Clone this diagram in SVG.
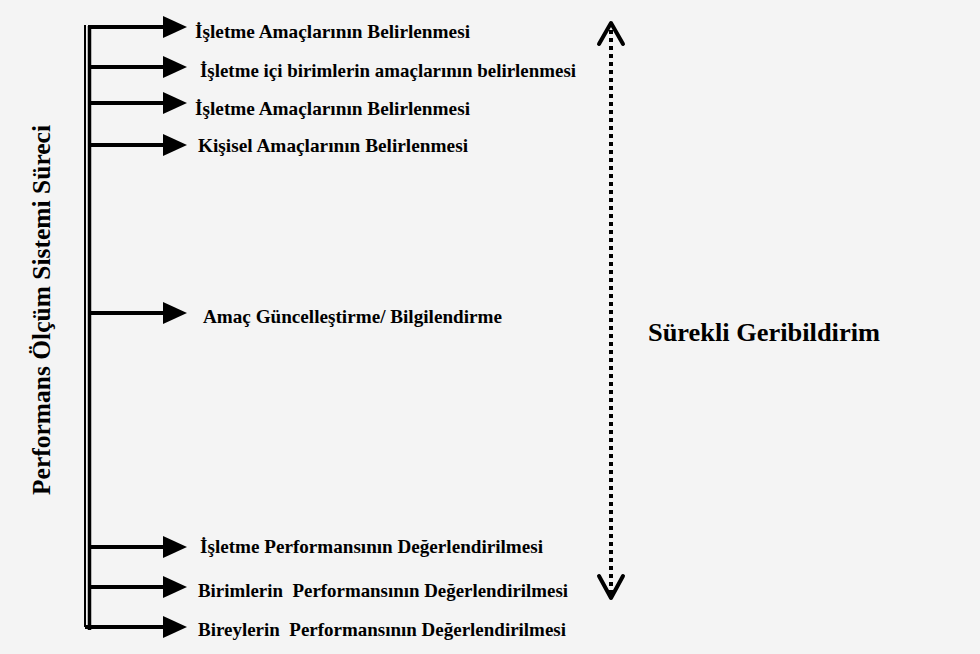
<svg xmlns="http://www.w3.org/2000/svg" width="980" height="654" viewBox="0 0 980 654">
<defs>
<style>
.t{font-family:"Liberation Serif","Times New Roman",serif;font-weight:bold;font-size:19px;fill:#000}
.big{font-family:"Liberation Serif","Times New Roman",serif;font-weight:bold;font-size:26px;fill:#000}
.shaft{stroke:#000;stroke-width:4;fill:none}
.head{fill:#000}
</style>
<g id="ah"><path class="head" d="M0,-11 L24,0 L0,11 Z"/></g>
</defs>
<rect width="980" height="654" fill="#f4f4f4"/>
<g id="connectors">
<line x1="85" y1="25" x2="85" y2="627" stroke="#000" stroke-width="2"/>
<line x1="89.5" y1="26" x2="89.5" y2="630" stroke="#000" stroke-width="3.5"/>
<line class="shaft" x1="88" y1="27" x2="166" y2="27"/><use href="#ah" x="163" y="27"/>
<line class="shaft" x1="88" y1="67" x2="166" y2="67"/><use href="#ah" x="163" y="67"/>
<line class="shaft" x1="88" y1="103" x2="166" y2="103"/><use href="#ah" x="163" y="103"/>
<line class="shaft" x1="88" y1="145" x2="166" y2="145"/><use href="#ah" x="163" y="145"/>
<line class="shaft" x1="88" y1="313" x2="166" y2="313"/><use href="#ah" x="163" y="313"/>
<line class="shaft" x1="88" y1="547" x2="166" y2="547"/><use href="#ah" x="163" y="547"/>
<line class="shaft" x1="88" y1="587" x2="166" y2="587"/><use href="#ah" x="163" y="587"/>
<line class="shaft" x1="85" y1="627" x2="166" y2="627"/><use href="#ah" x="163" y="627"/>
<line x1="611" y1="30" x2="611" y2="594" stroke="#000" stroke-width="4" stroke-dasharray="4,4"/>
<path d="M599,44 L611,23 L623,44" fill="none" stroke="#000" stroke-width="4" stroke-linejoin="round" stroke-linecap="round"/>
<path d="M599,576 L611,598 L623,576" fill="none" stroke="#000" stroke-width="4" stroke-linejoin="round" stroke-linecap="round"/>
</g>
<g id="n1"><text class="t" x="195" y="38" textLength="275" lengthAdjust="spacingAndGlyphs">İşletme Amaçlarının Belirlenmesi</text></g>
<g id="n2"><text class="t" x="200" y="77" textLength="376" lengthAdjust="spacingAndGlyphs">İşletme içi birimlerin amaçlarının belirlenmesi</text></g>
<g id="n3"><text class="t" x="195" y="115" textLength="275" lengthAdjust="spacingAndGlyphs">İşletme Amaçlarının Belirlenmesi</text></g>
<g id="n4"><text class="t" x="198" y="152" textLength="270" lengthAdjust="spacingAndGlyphs">Kişisel Amaçlarının Belirlenmesi</text></g>
<g id="n5"><text class="t" x="203" y="323" textLength="299" lengthAdjust="spacingAndGlyphs">Amaç Güncelleştirme/ Bilgilendirme</text></g>
<g id="n6"><text class="t" x="200" y="553" textLength="343" lengthAdjust="spacingAndGlyphs">İşletme Performansının Değerlendirilmesi</text></g>
<g id="n7"><text class="t" x="198" y="597" textLength="370" lengthAdjust="spacingAndGlyphs" xml:space="preserve">Birimlerin  Performansının Değerlendirilmesi</text></g>
<g id="n8"><text class="t" x="198" y="636" textLength="368" lengthAdjust="spacingAndGlyphs" xml:space="preserve">Bireylerin  Performansının Değerlendirilmesi</text></g>
<g id="feedback"><text class="big" x="648" y="341" textLength="232" lengthAdjust="spacingAndGlyphs">Sürekli Geribildirim</text></g>
<g id="process"><text class="big" transform="translate(50,310) rotate(-90)" x="-185" textLength="370" lengthAdjust="spacingAndGlyphs">Performans Ölçüm Sistemi Süreci</text></g>
</svg>
